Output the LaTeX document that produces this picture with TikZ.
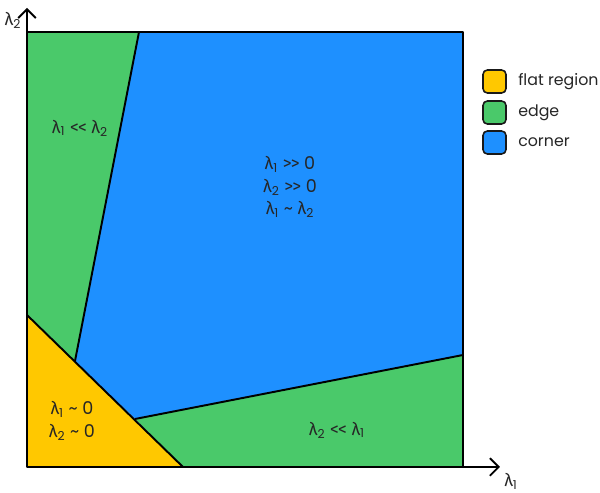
\documentclass[tikz,border=0pt]{standalone}
\usepackage{fontspec}
\setmainfont{Poppins}
\newfontfamily\grk{Fira Sans}
\usetikzlibrary{arrows.meta}
\definecolor{flatc}{RGB}{255,200,0}
\definecolor{edgec}{RGB}{74,201,106}
\definecolor{cornc}{RGB}{30,144,255}
\newcommand{\lm}[1]{{\grk λ}\textsubscript{#1}}
\newcommand{\lls}{{\grk <\kern-0.5pt<}}
\newcommand{\ggs}{{\grk >\kern-0.5pt>}}
\tikzset{
	region/.style={draw=black,line width=1.1pt,line join=round},
	axis/.style={line width=1.1pt,-{Straight Barb[length=5pt,width=10pt]}},
	lab/.style={font=\fontsize{10}{12}\selectfont,text=black!85,align=center},
	keylab/.style={font=\fontsize{9}{11}\selectfont,text=black!85,anchor=west,xshift=3pt},
	key/.style={draw=black!90,line width=0.9pt,rounded corners=2.5pt,minimum size=0.46cm,inner sep=0pt}
}
\begin{document}
\begin{tikzpicture}[x=0.02cm,y=-0.02cm]
	\useasboundingbox (0,0) rectangle (600,493);
	%corners of the regions
	\coordinate (o)  at (27,467);
	\coordinate (tl) at (27,32);
	\coordinate (tr) at (463,32);
	\coordinate (br) at (463,467);
	\coordinate (ta) at (139,32);
	\coordinate (fa) at (27,315);
	\coordinate (fb) at (183,467);
	\coordinate (ma) at (75,361);
	\coordinate (mb) at (135,419);
	\coordinate (ra) at (463,355);
	
	%regions
	\fill[flatc] (fa) -- (fb) -- (o) -- cycle;
	\fill[edgec] (tl) -- (ta) -- (ma) -- (fa) -- cycle;
	\fill[cornc] (ta) -- (tr) -- (ra) -- (mb) -- (ma) -- cycle;
	\fill[edgec] (mb) -- (ra) -- (br) -- (fb) -- cycle;
	
	%borders
	\draw[region] (tl) rectangle (br);
	\draw[region] (ta) -- (ma);
	\draw[region] (fa) -- (fb);
	\draw[region] (mb) -- (ra);
	
	%axes
	\coordinate (yend) at (27,8);
	\coordinate (xend) at (500,467);
	\draw[axis] (o) -- (yend);
	\draw[axis] (o) -- (xend);
	\node[lab] (ylab) at (13,20) {\lm{2}};
	\node[lab] (xlab) at (511,481) {\lm{1}};
	
	%inner labels
	\node[lab] (edgeup) at (80,128) {\lm{1} \lls{} \lm{2}};
	\node[lab] (corn) at (290,187) {\lm{1} \ggs{} 0\\[1pt] \lm{2} \ggs{} 0\\[1pt] \lm{1} \char`~{} \lm{2}};
	\node[lab] (flat) at (72,421) {\lm{1} \char`~{} 0\\[1pt] \lm{2} \char`~{} 0};
	\node[lab] (edgedn) at (337,430) {\lm{2} \lls{} \lm{1}};
	
	%legend
	\node[key,fill=flatc] (kflat) at (494.5,81.5) {};
	\node[key,fill=edgec] (kedge) at (494.5,112.5) {};
	\node[key,fill=cornc] (kcorn) at (494.5,142.5) {};
	\node[keylab] at (kflat.east) {flat region};
	\node[keylab] at (kedge.east) {edge};
	\node[keylab] at (kcorn.east) {corner};
\end{tikzpicture}
\end{document}
